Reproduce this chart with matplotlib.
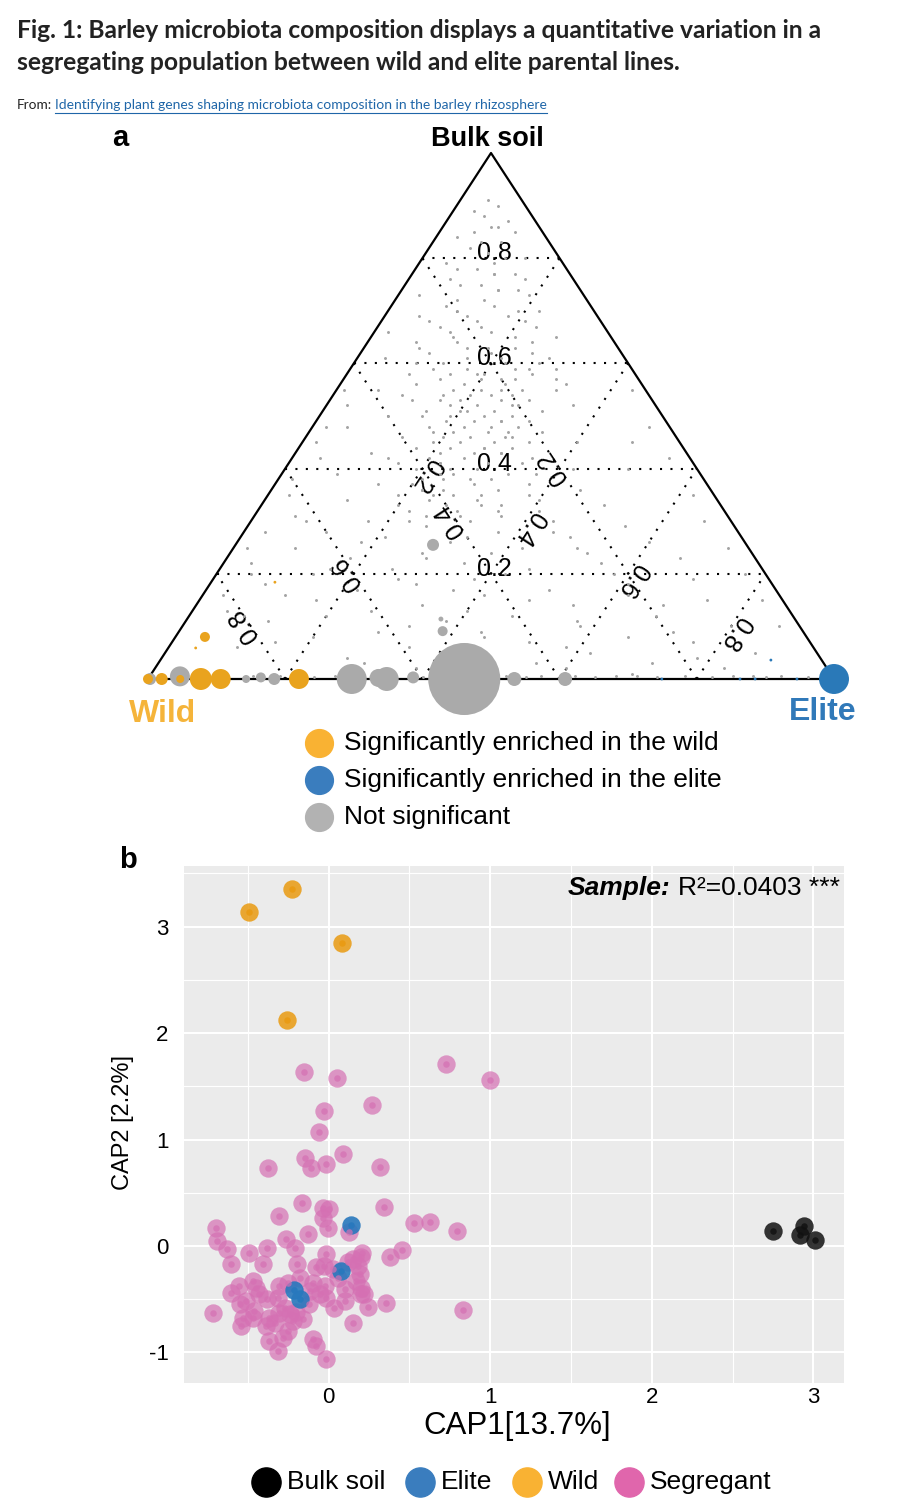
import matplotlib.pyplot as plt
from matplotlib.lines import Line2D
import numpy as np

plt.rcParams['font.family'] = ['Liberation Sans', 'DejaVu Sans']
plt.rcParams['axes.unicode_minus'] = False

# ---------------- panel a: ternary plot (bulk soil / wild / elite) ----------------
# small OTUs, given as fraction in bulk soil and in elite (wild = 1 - bulk - elite)
grey_bulk = np.array([
    0.91, 0.88, 0.86, 0.84, 0.83, 0.82, 0.80, 0.79, 0.78, 0.77, 0.76, 0.75, 0.74, 0.73,
    0.72, 0.71, 0.70, 0.70, 0.69, 0.68, 0.68, 0.67, 0.66, 0.66, 0.65, 0.64, 0.64, 0.63,
    0.62, 0.62, 0.61, 0.61,
    0.60, 0.60, 0.59, 0.59, 0.58, 0.58, 0.57, 0.57, 0.56, 0.56, 0.55, 0.55, 0.55, 0.54,
    0.54, 0.53, 0.53, 0.53, 0.52, 0.52, 0.51, 0.51, 0.50, 0.50, 0.50, 0.49, 0.49, 0.48,
    0.48, 0.48, 0.47, 0.47, 0.46, 0.46, 0.45, 0.45, 0.45, 0.44, 0.44, 0.43, 0.43, 0.42,
    0.42, 0.41, 0.41, 0.40, 0.40, 0.39, 0.39, 0.38, 0.38, 0.37, 0.37, 0.36, 0.36, 0.35,
    0.35, 0.34, 0.34, 0.33, 0.33, 0.32, 0.32, 0.31, 0.31, 0.30, 0.30,
    0.29, 0.29, 0.28, 0.28, 0.27, 0.27, 0.26, 0.26, 0.25, 0.25, 0.24, 0.24, 0.23, 0.23,
    0.22, 0.22, 0.21, 0.21, 0.20, 0.20, 0.19, 0.19, 0.18, 0.18, 0.17, 0.17, 0.16, 0.16,
    0.15, 0.15, 0.14, 0.14, 0.13, 0.13, 0.12, 0.12, 0.11, 0.11, 0.10, 0.10, 0.09, 0.09,
    0.08, 0.08, 0.07, 0.07, 0.06, 0.06, 0.05, 0.05, 0.04, 0.04, 0.03, 0.03, 0.02, 0.02,
    0.45, 0.52, 0.38, 0.28, 0.40, 0.45, 0.57, 0.63, 0.47, 0.51, 0.55, 0.44, 0.39, 0.36,
    0.58, 0.54, 0.49, 0.43, 0.41, 0.33, 0.74, 0.81, 0.86, 0.77, 0.52, 0.46, 0.59, 0.35,
    0.005, 0.005, 0.005, 0.005, 0.005, 0.005, 0.005, 0.005, 0.005, 0.005, 0.005, 0.005,
    0.005, 0.005, 0.005,
    0.65, 0.65, 0.64, 0.63, 0.63, 0.62, 0.61, 0.61, 0.60, 0.60, 0.59, 0.59, 0.58, 0.58,
    0.57, 0.57, 0.56, 0.56, 0.55, 0.55, 0.54, 0.54, 0.53, 0.53, 0.52, 0.52, 0.51, 0.51,
    0.50, 0.50, 0.49, 0.49, 0.48, 0.48, 0.47, 0.47, 0.46, 0.46, 0.45, 0.45, 0.44, 0.44,
    0.43, 0.43, 0.42, 0.42, 0.41, 0.41, 0.40, 0.40, 0.39, 0.39, 0.38, 0.38, 0.37, 0.37,
    0.36, 0.36, 0.35, 0.35, 0.34, 0.34, 0.33, 0.33, 0.32, 0.32, 0.31, 0.31, 0.30, 0.30,
    0.90, 0.89, 0.87, 0.85, 0.85, 0.83, 0.81, 0.80, 0.79, 0.78, 0.77, 0.76, 0.75, 0.74,
    0.73, 0.72, 0.71, 0.70, 0.69, 0.69, 0.68, 0.67, 0.67, 0.66,
    0.28, 0.27, 0.26, 0.25, 0.24, 0.23, 0.22, 0.21, 0.20, 0.19, 0.18, 0.17, 0.16, 0.15,
    0.14, 0.13, 0.12, 0.11, 0.10, 0.09, 0.08, 0.07, 0.06, 0.05, 0.04, 0.03, 0.02, 0.015,
    0.015, 0.01,
    0.55, 0.48, 0.42, 0.35, 0.30, 0.25, 0.20, 0.16, 0.12,
    0.55, 0.48, 0.42, 0.35, 0.30, 0.25, 0.20, 0.15, 0.10,
    0.003, 0.003, 0.003, 0.003, 0.003, 0.003, 0.003, 0.003])
grey_elite = np.array([
    0.04, 0.05, 0.07, 0.03, 0.10, 0.06, 0.12, 0.04, 0.09, 0.15, 0.06, 0.11, 0.17, 0.03,
    0.13, 0.08, 0.19, 0.10, 0.05, 0.14, 0.21, 0.09, 0.17, 0.02, 0.12, 0.24, 0.07, 0.15,
    0.19, 0.10, 0.28, 0.04,
    0.13, 0.22, 0.17, 0.30, 0.09, 0.20, 0.25, 0.14, 0.18, 0.33, 0.06, 0.21, 0.27, 0.16,
    0.23, 0.12, 0.19, 0.29, 0.22, 0.36, 0.15, 0.25, 0.19, 0.10, 0.28, 0.23, 0.31, 0.17,
    0.26, 0.05, 0.21, 0.34, 0.24, 0.14, 0.28, 0.19, 0.40, 0.22, 0.31, 0.11, 0.26, 0.20,
    0.35, 0.29, 0.16, 0.24, 0.42, 0.33, 0.08, 0.21, 0.28, 0.37, 0.15, 0.25, 0.45, 0.31,
    0.19, 0.40, 0.12, 0.27, 0.50, 0.22, 0.35, 0.30, 0.06, 0.44, 0.17,
    0.26, 0.55, 0.12, 0.37, 0.48, 0.21, 0.31, 0.60, 0.09, 0.42, 0.28, 0.52, 0.18, 0.66,
    0.35, 0.04, 0.45, 0.25, 0.58, 0.14, 0.38, 0.70, 0.30, 0.08, 0.50, 0.22, 0.62, 0.41,
    0.17, 0.74, 0.33, 0.55, 0.05, 0.26, 0.47, 0.68, 0.38, 0.12, 0.58, 0.80, 0.29, 0.44,
    0.20, 0.66, 0.52, 0.76, 0.35, 0.10, 0.62, 0.86, 0.45, 0.27, 0.72, 0.55, 0.38, 0.83,
    0.02, 0.03, 0.02, 0.03, 0.50, 0.48, 0.23, 0.18, 0.29, 0.20, 0.24, 0.27, 0.23, 0.22,
    0.19, 0.26, 0.27, 0.30, 0.22, 0.32, 0.14, 0.09, 0.08, 0.12, 0.27, 0.30, 0.26, 0.24,
    0.15, 0.19, 0.27, 0.33, 0.42, 0.47, 0.52, 0.57, 0.62, 0.68, 0.71, 0.78, 0.85, 0.88,
    0.92,
    0.21, 0.27, 0.13, 0.22, 0.08, 0.25, 0.16, 0.21, 0.09, 0.27, 0.12, 0.24, 0.15, 0.27,
    0.20, 0.31, 0.11, 0.24, 0.17, 0.32, 0.20, 0.10, 0.25, 0.16, 0.18, 0.28, 0.21, 0.32,
    0.15, 0.24, 0.19, 0.27, 0.22, 0.30, 0.18, 0.26, 0.29, 0.20, 0.23, 0.33, 0.17, 0.27,
    0.21, 0.30, 0.25, 0.14, 0.22, 0.34, 0.28, 0.19, 0.25, 0.37, 0.31, 0.24, 0.20, 0.29,
    0.33, 0.22, 0.27, 0.38, 0.24, 0.31, 0.35, 0.20, 0.29, 0.41, 0.25, 0.36, 0.32, 0.23,
    0.06, 0.03, 0.09, 0.05, 0.11, 0.07, 0.09, 0.15, 0.11, 0.06, 0.12, 0.17, 0.08, 0.14,
    0.19, 0.09, 0.15, 0.22, 0.12, 0.18, 0.07, 0.23, 0.15, 0.11,
    0.45, 0.33, 0.18, 0.50, 0.38, 0.29, 0.55, 0.16, 0.42, 0.27, 0.61, 0.36, 0.12, 0.48,
    0.68, 0.40, 0.20, 0.57, 0.33, 0.72, 0.45, 0.15, 0.58, 0.40, 0.78, 0.30, 0.60, 0.47,
    0.21, 0.70,
    0.01, 0.02, 0.04, 0.03, 0.08, 0.02, 0.05, 0.03, 0.08,
    0.43, 0.49, 0.55, 0.62, 0.66, 0.72, 0.77, 0.82, 0.87,
    0.24, 0.40, 0.55, 0.65, 0.74, 0.82, 0.90, 0.96])

# abundant OTUs (circle area ~ relative abundance)
ns_bulk = [0.0, 0.005, 0.0, 0.003, 0.0, 0.0, 0.002, 0.0, 0.003, 0.0, 0.0, 0.0, 0.255, 0.091, 0.114]
ns_elite = [0.003, 0.044, 0.143, 0.163, 0.184, 0.297, 0.335, 0.348, 0.385, 0.461, 0.534, 0.608,
            0.288, 0.384, 0.370]
ns_abund = [36, 100, 16, 25, 36, 225, 81, 144, 36, 1300, 49, 49, 36, 25, 6]

wild_bulk = [0.0, 0.0, 0.0, 0.0, 0.0, 0.0, 0.08, 0.184, 0.059]
wild_elite = [0.0, 0.02, 0.047, 0.077, 0.106, 0.22, 0.043, 0.093, 0.04]
wild_abund = [25, 36, 16, 121, 100, 100, 25, 2, 2]

elite_bulk = [0.0, 0.036, 0.0, 0.0, 0.0, 0.0]
elite_elite = [1.0, 0.89, 0.749, 0.863, 0.885, 0.946]
elite_abund = [225, 2, 2, 2, 2, 2]

grid_levels = [0.2, 0.4, 0.6, 0.8]

# ---------------- panel b: CAP ordination ----------------
seg_x = [-0.153, 0.054, 0.729, 1.0, 0.269, -0.029, -0.058, -0.149, -0.112, -0.019, 0.087,
         -0.372, 0.320, -0.165, -0.035, 0.0, -0.304, 0.343, -0.035, -0.004, -0.128, 0.126,
         0.529, 0.630, 0.793, -0.70, -0.69, -0.628, -0.603, -0.494, -0.382, -0.407, -0.262,
         -0.211, -0.194, -0.014, -0.031, 0.209, 0.151, 0.192, 0.378, 0.457, -0.18, -0.097,
         0.099, 0.202, 0.202, -0.552, -0.603, -0.469, -0.428, -0.304, -0.314, -0.510, -0.014,
         0.031, 0.244, 0.357, -0.713, -0.531, -0.541, -0.459, -0.366, -0.386, -0.304, -0.242,
         -0.221, -0.159, 0.151, 0.833, -0.366, -0.283, -0.314, -0.097, -0.076, -0.014, -0.118,
         -0.056, 0.182, 0.027, -0.45, -0.38, -0.27, -0.20, -0.12, -0.33, -0.25, 0.06, 0.12,
         0.20, 0.17, -0.08, -0.25, -0.55, -0.47, 0.22, 0.10, -0.02]
seg_y = [1.637, 1.574, 1.712, 1.559, 1.321, 1.268, 1.07, 0.829, 0.736, 0.767, 0.861,
         0.732, 0.745, 0.407, 0.36, 0.344, 0.282, 0.369, 0.266, 0.172, 0.11, 0.135,
         0.219, 0.225, 0.141, 0.172, 0.047, -0.03, -0.166, -0.063, -0.016, -0.172, 0.063,
         -0.016, -0.166, -0.078, -0.188, -0.063, -0.125, -0.266, -0.103, -0.041, -0.297, -0.344,
         -0.407, -0.391, -0.454, -0.376, -0.438, -0.329, -0.454, -0.376, -0.485, -0.516, -0.485,
         -0.579, -0.573, -0.532, -0.626, -0.673, -0.751, -0.61, -0.673, -0.751, -0.626, -0.641,
         -0.704, -0.689, -0.72, -0.604, -0.892, -0.861, -0.986, -0.876, -0.939, -1.064, -0.423,
         -0.454, -0.188, -0.219, -0.40, -0.50, -0.58, -0.62, -0.55, -0.72, -0.80, -0.30, -0.15,
         -0.10, -0.33, -0.20, -0.35, -0.55, -0.68, -0.45, -0.52, -0.38]
elite_x = [0.14, 0.079, -0.215, -0.18]
elite_y = [0.194, -0.235, -0.416, -0.50]
wild_x = [-0.227, -0.494, 0.08, -0.256]
wild_y = [3.35, 3.14, 2.85, 2.12]
bulk_x = [2.752, 2.94, 2.915, 3.008]
bulk_y = [0.141, 0.188, 0.099, 0.052]

W, H = 924, 1505
fig = plt.figure(figsize=(W / 100, H / 100), dpi=100)


def fx(px):
    return px / W


def fy(py):
    return 1 - py / H


def tern(bulk, elite):
    bulk = np.asarray(bulk, dtype=float)
    elite = np.asarray(elite, dtype=float)
    return elite + bulk / 2, bulk


# triangle corners in pixels: left (148,679), right (834,679), top (491,153)
TL, TR, TB, TT = 148, 834, 679, 153
L, R, T, B = 90, 890, 120, 745
axa = fig.add_axes([fx(L), fy(B), (R - L) / W, (B - T) / H])
axa.set_xlim((L - TL) / (TR - TL), (R - TL) / (TR - TL))
axa.set_ylim((TB - B) / (TB - TT), (TB - T) / (TB - TT))
axa.axis('off')

dots = (0, (1, 4))
for v in grid_levels:
    axa.plot([v / 2, 1 - v / 2], [v, v], color='black', lw=1.5, ls=dots)
    axa.plot([v, v + (1 - v) / 2], [0, 1 - v], color='black', lw=1.5, ls=dots)
    axa.plot([1 - v, (1 - v) / 2], [0, 1 - v], color='black', lw=1.5, ls=dots)
axa.plot([0, 1, 0.5, 0], [0, 0, 1, 0], color='black', lw=1.6, clip_on=False)

ang = np.degrees(np.arctan2(TB - TT, (TR - TL) / 2))
for v in grid_levels:
    lab = f'{v:.1f}'
    axa.annotate(lab, (0.5, v), xytext=(3, 5), textcoords='offset pixels',
                 ha='center', va='center', fontsize=18)
    m = (1 - v) / 2
    axa.annotate(lab, (m + m / 2, m), xytext=(-7, 1), textcoords='offset pixels',
                 ha='center', va='center', fontsize=18, rotation=180 - ang,
                 rotation_mode='anchor')
    axa.annotate(lab, (v + m / 2, m), xytext=(4, -7), textcoords='offset pixels',
                 ha='center', va='center', fontsize=18, rotation=180 + ang,
                 rotation_mode='anchor')

gx, gy = tern(grey_bulk, grey_elite)
axa.scatter(gx, gy, s=4.5, color='#A3A3A3', linewidths=0, zorder=3)
k = 2.07
x, y = tern(ns_bulk, ns_elite)
axa.scatter(x, y, s=np.array(ns_abund) * k, color='#AAAAAA', linewidths=0, zorder=4, clip_on=False)
x, y = tern(wild_bulk, wild_elite)
axa.scatter(x, y, s=np.array(wild_abund) * k, color='#E9A31E', linewidths=0, zorder=5, clip_on=False)
x, y = tern(elite_bulk, elite_elite)
axa.scatter(x, y, s=np.array(elite_abund) * k, color='#2A79B8', linewidths=0, zorder=5, clip_on=False)

fig.text(fx(487), fy(139), 'Bulk soil', ha='center', va='center', fontsize=19.5, fontweight='bold')
fig.text(fx(163), fy(714), 'Wild', ha='center', va='center', fontsize=23, fontweight='bold',
         color='#F5B43A')
fig.text(fx(823), fy(712), 'Elite', ha='center', va='center', fontsize=23, fontweight='bold',
         color='#3079B9')
fig.text(fx(120), fy(138), 'a', ha='center', va='center', fontsize=21, fontweight='bold')

leg_a = [('Significantly enriched in the wild', '#F9B233'),
         ('Significantly enriched in the elite', '#3A7DBE'),
         ('Not significant', '#B2B2B2')]
for i, (lab, col) in enumerate(leg_a):
    yy = 743 + i * 37
    fig.add_artist(Line2D([fx(319)], [fy(yy)], marker='o', markersize=20, color=col,
                          lw=0, transform=fig.transFigure))
    fig.text(fx(344), fy(yy), lab, va='center', fontsize=19)

# ---------------- panel b ----------------
axb = fig.add_axes([fx(184), fy(1383), 660 / W, 517 / H])
axb.set_facecolor('#EBEBEB')
axb.set_xlim(-0.895, 3.19)
axb.set_ylim(-1.288, 3.57)
axb.set_xticks([0, 1, 2, 3])
axb.set_xticks([-0.5, 0.5, 1.5, 2.5], minor=True)
axb.set_yticks([-1, 0, 1, 2, 3])
axb.set_yticklabels(['-1', '0', '1', '2', '3'])
axb.set_yticks([-0.5, 0.5, 1.5, 2.5, 3.5], minor=True)
axb.grid(which='major', color='white', lw=1.5)
axb.grid(which='minor', color='white', lw=0.85)
axb.set_axisbelow(True)
axb.tick_params(which='both', length=0, labelsize=16, colors='black')
axb.tick_params(axis='x', pad=3)
axb.tick_params(axis='y', pad=11)
for sp in axb.spines.values():
    sp.set_visible(False)

groups = [(seg_x, seg_y, '#D570B3', 0.7),
          (elite_x, elite_y, '#2878BD', 0.9),
          (wild_x, wild_y, '#E99A10', 0.85),
          (bulk_x, bulk_y, '#111111', 0.85)]
for gx_, gy_, col, al in groups:
    axb.scatter(gx_, gy_, s=175, color=col, alpha=al, linewidths=0, zorder=3)
    axb.scatter(gx_, gy_, s=22, color=col, alpha=al, linewidths=0, zorder=4)

fig.text(fx(517), fy(1426), 'CAP1[13.7%]', ha='center', va='center', fontsize=22.5)
fig.text(fx(123), fy(1122), 'CAP2 [2.2%]', ha='center', va='center', fontsize=17, rotation=90)
fig.text(fx(670), fy(888), 'Sample:', ha='right', va='center', fontsize=19,
         fontweight='bold', fontstyle='italic')
fig.text(fx(678), fy(888), 'R²=0.0403 ***', ha='left', va='center', fontsize=19)
fig.text(fx(128), fy(860), 'b', ha='center', va='center', fontsize=21, fontweight='bold')

leg_b = [('Bulk soil', 'black', 266), ('Elite', '#3A7DBE', 420),
         ('Wild', '#F9B233', 527), ('Segregant', '#E066AC', 629)]
for lab, col, px in leg_b:
    fig.add_artist(Line2D([fx(px)], [fy(1482)], marker='o', markersize=21, color=col,
                          lw=0, transform=fig.transFigure))
    fig.text(fx(px + 21), fy(1482), lab, va='center', fontsize=19)

# ---------------- header ----------------
head = ['Lato', 'DejaVu Sans']
t1 = fig.text(fx(17), fy(30), 'Fig. 1: Barley microbiota composition displays a quantitative variation in a',
              va='center', fontsize=17, fontweight='bold', family=head, color='#222222')
t2 = fig.text(fx(17), fy(63), 'segregating population between wild and elite parental lines.',
              va='center', fontsize=17, fontweight='bold', family=head, color='#222222')
t3 = fig.text(fx(17), fy(105), 'From:', va='center', fontsize=10, family=head, color='#222222')
t4 = fig.text(fx(55), fy(105),
              'Identifying plant genes shaping microbiota composition in the barley rhizosphere',
              va='center', fontsize=10, family=head, color='#1F66A8')

fig.canvas.draw()
rend = fig.canvas.get_renderer()
for t, target in [(t1, 805), (t3, 35), (t4, 494)]:
    w = t.get_window_extent(rend).width
    t.set_fontsize(t.get_fontsize() * target / w)
t2.set_fontsize(t1.get_fontsize())
fig.canvas.draw()
bb = t4.get_window_extent(rend)
fig.add_artist(Line2D([fx(bb.x0), fx(bb.x1)], [fy(113), fy(113)], color='#1F66A8', lw=0.8,
                      transform=fig.transFigure))

fig.savefig('out.png', dpi=100)
